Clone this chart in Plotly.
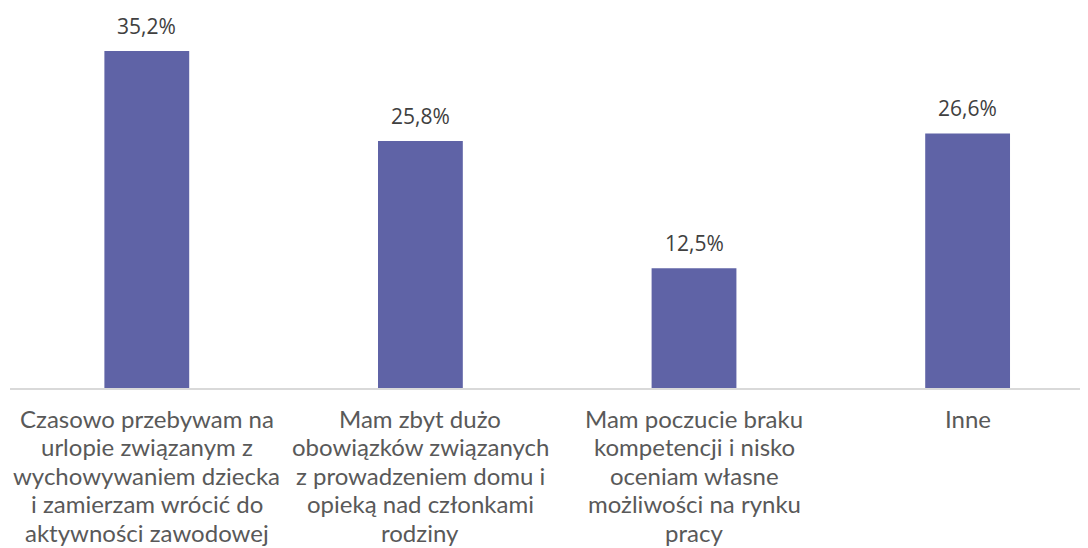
import plotly.graph_objects as go

# categories (one list of lines per bar) and values
categories = [
    ["Czasowo przebywam na", "urlopie związanym z", "wychowywaniem dziecka",
     "i zamierzam wrócić do", "aktywności zawodowej"],
    ["Mam zbyt dużo", "obowiązków związanych", "z prowadzeniem domu i",
     "opieką nad członkami", "rodziny"],
    ["Mam poczucie braku", "kompetencji i nisko", "oceniam własne",
     "możliwości na rynku", "pracy"],
    ["Inne"],
]
values = [35.2, 25.8, 12.5, 26.6]
value_labels = [f"{v:.1f}".replace(".", ",") + "%" for v in values]

bar_color = "#5f63a6"
label_font = dict(family="Lato", size=24, color="#595959")

fig = go.Figure()
fig.add_trace(go.Bar(
    x=list(range(len(categories))), y=values,
    marker=dict(color=bar_color, line=dict(width=0)),
    width=0.31, hoverinfo="skip",
))

# value labels above bars
for i, (v, t) in enumerate(zip(values, value_labels)):
    fig.add_annotation(x=i, y=v, text=t, showarrow=False, yanchor="bottom",
                       yshift=9.5, font=dict(family="Open Sans", size=21, color="#404040"))

# category labels under the axis, line by line (Excel-like line spacing)
for i, lines in enumerate(categories):
    for k, line in enumerate(lines):
        fig.add_annotation(x=i, xref="x", y=0, yref="paper", text=line,
                           showarrow=False, yanchor="middle",
                           yshift=-30 - 28.5 * k, font=label_font)

# page body has an 8px margin, so the figure is sized to the rest of the window
fig.update_layout(
    width=1080, height=540,
    margin=dict(l=2, r=0, t=32, b=160),
    plot_bgcolor="white", paper_bgcolor="white",
    showlegend=False,
    xaxis=dict(
        range=[-0.5, 3.44], showgrid=False, zeroline=False,
        showline=True, linecolor="#d9d9d9", linewidth=2,
        showticklabels=False, ticks="", automargin=False,
    ),
    yaxis=dict(range=[0, 36.36], visible=False, automargin=False),
)

fig.write_html("out.html")
